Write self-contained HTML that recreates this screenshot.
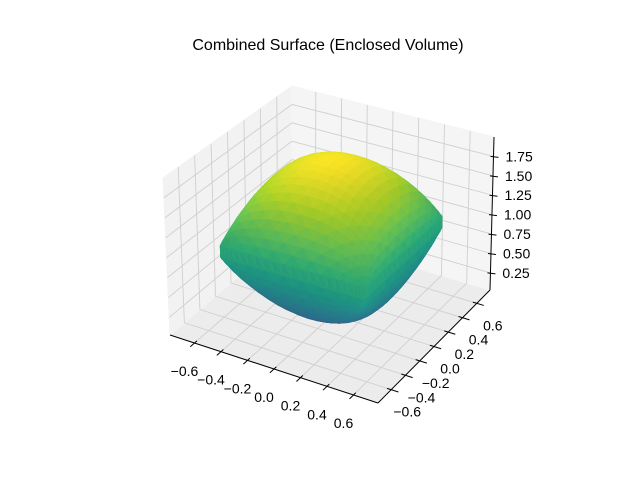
<!DOCTYPE html>
<html><head><meta charset="utf-8">
<style>
html,body{margin:0;padding:0;background:#fff;}
svg{display:block;font-family:"Liberation Sans","DejaVu Sans",sans-serif;}
</style></head>
<body>
<svg id="chart" width="640" height="480" viewBox="0 0 640 480" xmlns="http://www.w3.org/2000/svg">
<rect width="640" height="480" fill="#fff"/>
<text x="328" y="50" font-size="16" text-anchor="middle" fill="#000">Combined Surface (Enclosed Volume)</text>
<g id="panes"></g><g id="grid"></g><g id="surf"></g><g id="axes"></g>
</svg>
<script>
const xTicks=[-0.6,-0.4,-0.2,0.0,0.2,0.4,0.6];
const yTicks=[-0.6,-0.4,-0.2,0.0,0.2,0.4,0.6];
const zTicks=[0.25,0.5,0.75,1.0,1.25,1.5,1.75];
const xLabels=["−0.6","−0.4","−0.2","0.0","0.2","0.4","0.6"];
const yLabels=["−0.6","−0.4","−0.2","0.0","0.2","0.4","0.6"];
const zLabels=["0.25","0.50","0.75","1.00","1.25","1.50","1.75"];
const xRange=[-0.785,0.785];
const yRange=[-0.785,0.785];
const zRange=[0.03,2.0];
// surface shape parameters: domain half-width, top (edge, rise), bottom (edge, drop)
const domainHalf=[0.535];
const topSurf=[1.08,0.88];
const botSurf=[0.93,0.83];

const NS="http://www.w3.org/2000/svg";
const B00=[170,335],B10=[378,403],B11=[490,290],B01=[292,231];
const T00=[163,178],T10=[383,236],T11=[494,137],T01=[292,86];
function bil(a,b,c,d,u,v){return [a[0]*(1-u)*(1-v)+b[0]*u*(1-v)+c[0]*u*v+d[0]*(1-u)*v,a[1]*(1-u)*(1-v)+b[1]*u*(1-v)+c[1]*u*v+d[1]*(1-u)*v];}
function P(u,v,w){const b=bil(B00,B10,B11,B01,u,v),t=bil(T00,T10,T11,T01,u,v);return [b[0]+(t[0]-b[0])*w,b[1]+(t[1]-b[1])*w];}
const nx=x=>(x-xRange[0])/(xRange[1]-xRange[0]);
const ny=y=>(y-yRange[0])/(yRange[1]-yRange[0]);
const nz=z=>(z-zRange[0])/(zRange[1]-zRange[0]);
function mk(tag,attrs,parent){const e=document.createElementNS(NS,tag);for(const k in attrs)e.setAttribute(k,attrs[k]);parent.appendChild(e);return e;}
function poly(pts){return pts.map(p=>p[0].toFixed(1)+","+p[1].toFixed(1)).join(" ");}
const panes=document.getElementById('panes'),grid=document.getElementById('grid'),surf=document.getElementById('surf'),axes=document.getElementById('axes');

let e;
e=mk('polygon',{points:poly([P(0,0,0),P(1,0,0),P(1,1,0),P(0,1,0)]),fill:'#ececec',stroke:'#f0f0f0'},panes);

e=mk('polygon',{points:poly([P(0,0,0),P(0,1,0),P(0,1,1),P(0,0,1)]),fill:'#f2f2f2',stroke:'#f2f2f2'},panes);

e=mk('polygon',{points:poly([P(0,1,0),P(1,1,0),P(1,1,1),P(0,1,1)]),fill:'#f5f5f5',stroke:'#f5f5f5'},panes);


function line(a,b,parent,col,w,name){const l=mk('line',{x1:a[0],y1:a[1],x2:b[0],y2:b[1],stroke:col,'stroke-width':w},parent);return l;}
const gc='#cfcfcf';
xTicks.forEach(t=>{const u=nx(t);line(P(u,0,0),P(u,1,0),grid,gc,0.9,'x-gridline');line(P(u,1,0),P(u,1,1),grid,gc,0.9,'x-gridline');});
yTicks.forEach(t=>{const v=ny(t);line(P(0,v,0),P(1,v,0),grid,gc,0.9,'y-gridline');line(P(0,v,0),P(0,v,1),grid,gc,0.9,'y-gridline');});
zTicks.forEach(t=>{const w=nz(t);line(P(0,0,w),P(0,1,w),grid,gc,0.9,'z-gridline');line(P(0,1,w),P(1,1,w),grid,gc,0.9,'z-gridline');});

const VIR=[[68,1,84],[72,40,120],[62,74,137],[49,104,142],[38,130,142],[31,158,137],[53,183,121],[110,206,88],[181,222,43],[253,231,37]];
function vir(t){t=Math.max(0,Math.min(1,t));const s=t*(VIR.length-1),i=Math.min(VIR.length-2,Math.floor(s)),f=s-i;return VIR[i].map((c,k)=>c+(VIR[i+1][k]-c)*f);}
const a=domainHalf[0],N=24;
function fshape(x,y){const p=Math.max(0,(1-(x/a)**2)*(1-(y/a)**2));return Math.pow(p,0.47);}
function zt(x,y){return topSurf[0]+topSurf[1]*fshape(x,y);}
function zb(x,y){return botSurf[0]-botSurf[1]*fshape(x,y);}
function gpos(i){return -a*Math.cos(Math.PI*i/N);}
const tris=[];
for(const f of [zt,zb]){
 for(let i=0;i<N;i++)for(let j=0;j<N;j++){
  const x0=gpos(i),x1=gpos(i+1),y0=gpos(j),y1=gpos(j+1);
  const p=[[x0,y0],[x1,y0],[x1,y1],[x0,y1]].map(q=>[q[0],q[1],f(q[0],q[1])]);
  const ts=((i+j)%2)?[[p[0],p[1],p[2]],[p[0],p[2],p[3]]]:[[p[0],p[1],p[3]],[p[1],p[2],p[3]]];
  ts.forEach(t=>tris.push(t));
 }}
for(let i=0;i<N;i++){const s0=gpos(i),s1=gpos(i+1);
 for(const ed of [[s0,-a,s1,-a],[s0,a,s1,a],[-a,s0,-a,s1],[a,s0,a,s1]]){
  const q=[[ed[0],ed[1],zt(ed[0],ed[1])],[ed[2],ed[3],zt(ed[2],ed[3])],[ed[2],ed[3],zb(ed[2],ed[3])],[ed[0],ed[1],zb(ed[0],ed[1])]];
  tris.push([q[0],q[1],q[2]]);tris.push([q[0],q[2],q[3]]);}}
function depth(t){let d=0;t.forEach(p=>{d+=(nx(p[0])-.5)*0.433-(ny(p[1])-.5)*0.75+(nz(p[2])-.5)*0.375;});return d/3;}
tris.sort((A,Bq)=>depth(A)-depth(Bq));
const cmin=-0.5,cmax=1.95;
tris.forEach(t=>{
 const zc=(t[0][2]+t[1][2]+t[2][2])/3;
 const u=[t[1][0]-t[0][0],t[1][1]-t[0][1],t[1][2]-t[0][2]],v=[t[2][0]-t[0][0],t[2][1]-t[0][1],t[2][2]-t[0][2]];
 let n=[u[1]*v[2]-u[2]*v[1],u[2]*v[0]-u[0]*v[2],u[0]*v[1]-u[1]*v[0]];const L=Math.hypot(...n)||1;n=n.map(q=>q/L);
 const sh=0.9+0.1*Math.abs(n[0]*-0.5+n[1]*0.3+n[2]*0.8);
 const col=vir((zc-cmin)/(cmax-cmin)).map(q=>Math.round(q*sh));
 const fill='rgb('+col.join(',')+')';
 const pts=t.map(p=>P(nx(p[0]),ny(p[1]),nz(p[2])));
 const pg=mk('polygon',{points:poly(pts),fill:fill,stroke:fill,'stroke-width':0.4},surf);
 
 
});

line(P(0,0,0),P(1,0,0),axes,'#000',1,'x-axis-line');
line(P(1,0,0),P(1,1,0),axes,'#000',1,'y-axis-line');
line(P(1,1,0),P(1,1,1),axes,'#000',1,'z-axis-line');
function txt(p,s,anchor,name){const tt=mk('text',{x:p[0].toFixed(1),y:p[1].toFixed(1),'font-size':14,'text-anchor':anchor,fill:'#000'},axes);tt.textContent=s;}
xTicks.forEach((t,i)=>{const u=nx(t);line(P(u,0.02,0),P(u,-0.035,0),axes,'#000',1,'x-tick');const p=P(u,0,0);txt([p[0]-10,p[1]+33],xLabels[i],'middle','x-tick-label');});
yTicks.forEach((t,i)=>{const v=ny(t);line(P(0.98,v,0),P(1.035,v,0),axes,'#000',1,'y-tick');const p=P(1,v,0);txt([p[0]+16,p[1]+27],yLabels[i],'middle','y-tick-label');});
zTicks.forEach((t,i)=>{const w=nz(t);const p=P(1,1,w);line([p[0]-3,p[1]],[p[0]+5,p[1]+1],axes,'#000',1,'z-tick');txt([p[0]+12,p[1]+5],zLabels[i],'start','z-tick-label');});
</script>
</body></html>
